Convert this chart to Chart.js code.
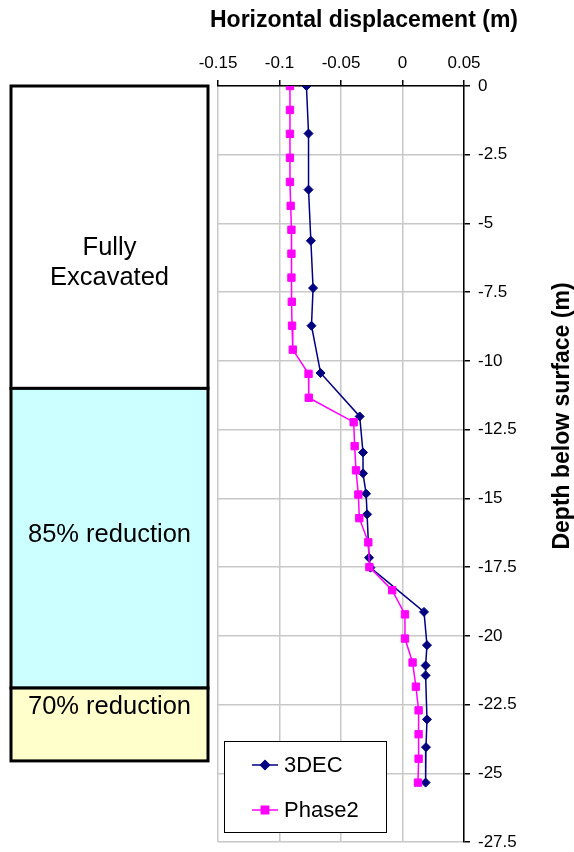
<!DOCTYPE html>
<html>
<head>
<meta charset="utf-8">
<script src="https://cdn.jsdelivr.net/npm/chart.js@4/dist/chart.umd.min.js"></script>
<style>
  body { margin: 0; background: #fff; }
  #chart { display: block; }
</style>
</head>
<body>
<canvas id="chart" width="574" height="852"></canvas>
<script>
// 3DEC results (horizontal displacement m, depth m)
const dec3X = [-0.0781, -0.0764, -0.0764, -0.0745, -0.0727, -0.074, -0.0666, -0.0348, -0.0321, -0.0321,
  -0.0296, -0.0288, -0.0272, -0.0261, 0.0175, 0.0199, 0.0188, 0.0188, 0.0199, 0.0191, 0.0188];
const dec3Y = [0, -1.73, -3.77, -5.63, -7.35, -8.72, -10.44, -12.02, -13.33, -14.09,
  -14.83, -15.58, -17.16, -17.52, -19.13, -20.34, -21.08, -21.44, -23.04, -24.05, -25.34];

// Phase2 results
const phase2X = [-0.0915, -0.0915, -0.0915, -0.0915, -0.0915, -0.0909, -0.0903, -0.0903, -0.0903, -0.09,
  -0.0898, -0.0892, -0.0764, -0.0762, -0.0397, -0.0389, -0.0378, -0.0359, -0.0351, -0.0278,
  -0.0269, -0.0084, 0.002, 0.002, 0.0082, 0.0109, 0.0131, 0.0131, 0.0131, 0.0126];
const phase2Y = [0, -0.87, -1.74, -2.61, -3.49, -4.36, -5.23, -6.1, -6.97, -7.85,
  -8.72, -9.59, -10.47, -11.34, -12.23, -13.1, -13.98, -14.86, -15.72, -16.6,
  -17.5, -18.34, -19.22, -20.1, -20.97, -21.85, -22.71, -23.58, -24.47, -25.34];

// zones beside the plot (depth limits)
const zoneDepths = [0, -11, -21.9, -24.55];
const zoneLabels = [["Fully", "Excavated"], ["85% reduction"], ["70% reduction"]];
const zoneColors = ["#ffffff", "#ccffff", "#ffffcc"];
const zoneTextPos = [0.585, 0.49, 0.26];

const fmt = v => String(+v.toFixed(2));

const toPts = (xs, ys) => xs.map((x, i) => ({ x: x, y: ys[i] }));

const zonesPlugin = {
  id: 'zones',
  beforeDraw(chart) {
    const ctx = chart.ctx;
    const y = chart.scales.y;
    const left = 11, right = 208;
    ctx.save();
    for (let i = 0; i < zoneLabels.length; i++) {
      const top = y.getPixelForValue(zoneDepths[i]);
      const bot = y.getPixelForValue(zoneDepths[i + 1]);
      ctx.fillStyle = zoneColors[i];
      ctx.fillRect(left, top, right - left, bot - top);
      ctx.strokeStyle = '#000';
      ctx.lineWidth = 3;
      ctx.strokeRect(left, top, right - left, bot - top);
      ctx.fillStyle = '#000';
      ctx.font = '25.5px "Liberation Sans", Arial, sans-serif';
      ctx.textAlign = 'center';
      ctx.textBaseline = 'middle';
      const lines = zoneLabels[i];
      const cy = top + (bot - top) * zoneTextPos[i];
      const lh = 30;
      lines.forEach((t, k) => {
        ctx.fillText(t, (left + right) / 2, cy + (k - (lines.length - 1) / 2) * lh);
      });
    }
    ctx.restore();
  },
  afterDraw(chart) {
    const ctx = chart.ctx;
    ctx.save();
    // axis titles
    ctx.fillStyle = '#000';
    ctx.font = 'bold 23px "Liberation Sans", Arial, sans-serif';
    ctx.textAlign = 'center';
    ctx.textBaseline = 'alphabetic';
    ctx.fillText('Horizontal displacement (m)', 364, 27);
    ctx.translate(569, 416);
    ctx.rotate(-Math.PI / 2);
    ctx.fillText('Depth below surface (m)', 0, 0);
    ctx.restore();

    // legend box
    ctx.save();
    const bx = 224, by = 741, bw = 162, bh = 91;
    ctx.fillStyle = '#fff';
    ctx.fillRect(bx, by, bw, bh);
    ctx.strokeStyle = '#000';
    ctx.lineWidth = 1;
    ctx.strokeRect(bx + 0.5, by + 0.5, bw, bh);
    const rows = [765, 810];
    chart.data.datasets.forEach((ds, i) => {
      const ry = rows[i];
      ctx.strokeStyle = ds.borderColor;
      ctx.lineWidth = ds.borderWidth;
      ctx.beginPath();
      ctx.moveTo(252, ry);
      ctx.lineTo(278, ry);
      ctx.stroke();
      Chart.helpers.drawPoint(ctx, {
        pointStyle: ds.pointStyle, radius: ds.pointRadius, borderWidth: 1, rotation: 0
      }, 265, ry);
      ctx.fillStyle = ds.backgroundColor;
      ctx.fill();
      ctx.fillStyle = '#000';
      ctx.font = '22px "Liberation Sans", Arial, sans-serif';
      ctx.textAlign = 'left';
      ctx.textBaseline = 'middle';
      ctx.fillText(ds.label, 284, ry + 1);
    });
    ctx.restore();
  }
};

const tickFont = { family: '"Liberation Sans", Arial, sans-serif', size: 17 };

new Chart(document.getElementById('chart').getContext('2d'), {
  type: 'scatter',
  data: {
    datasets: [{
      label: '3DEC',
      data: toPts(dec3X, dec3Y),
      showLine: true,
      borderColor: '#000080',
      backgroundColor: '#000080',
      borderWidth: 1.5,
      pointStyle: 'rectRot',
      pointRadius: 4.5,
      pointBorderWidth: 1,
      order: 1
    }, {
      label: 'Phase2',
      data: toPts(phase2X, phase2Y),
      showLine: true,
      borderColor: '#ff00ff',
      backgroundColor: '#ff00ff',
      borderWidth: 1.5,
      pointStyle: 'rect',
      pointRadius: 5.2,
      pointBorderWidth: 1,
      order: 0
    }]
  },
  options: {
    responsive: false,
    animation: false,
    layout: { padding: { left: 218, right: 0, top: 0, bottom: 10 } },
    plugins: {
      legend: { display: false },
      tooltip: { enabled: false }
    },
    scales: {
      x: {
        type: 'linear',
        position: 'top',
        min: -0.15,
        max: 0.05,
        ticks: { stepSize: 0.05, padding: 6, font: tickFont, color: '#000', callback: v => fmt(v) },
        grid: { color: '#c8c8c8', lineWidth: 1.5, tickColor: '#000', tickLength: 6, tickWidth: 1.5 },
        border: { color: '#000', width: 1.5 },
        afterFit: s => { s.height = 86; s.paddingLeft = 0; s.paddingRight = 0; }
      },
      y: {
        type: 'linear',
        position: 'right',
        min: -27.5,
        max: 0,
        ticks: { stepSize: 2.5, padding: 8, font: tickFont, color: '#000', callback: v => fmt(v) },
        grid: { color: '#c8c8c8', lineWidth: 1.5, tickColor: '#000', tickLength: 6, tickWidth: 1.5 },
        border: { color: '#000', width: 1.5 },
        afterFit: s => { s.width = 110; s.paddingTop = 0; s.paddingBottom = 0; }
      }
    }
  },
  plugins: [zonesPlugin]
});
</script>
</body>
</html>
